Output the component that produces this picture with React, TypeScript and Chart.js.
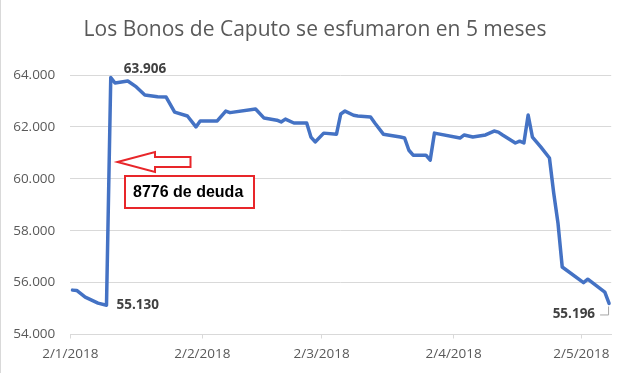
import React, { useEffect, useRef } from "react";
import { Chart, registerables } from "chart.js";

Chart.register(...registerables);

const TITLE = "Los Bonos de Caputo se esfumaron en 5 meses";
const ANNOTATION_TEXT = "8776 de deuda";
const START_DATE = "2018-01-02";
const END_DATE = "2018-05-08";

const dates = [
  "2018-01-02", "2018-01-03", "2018-01-05", "2018-01-08", "2018-01-10", "2018-01-11",
  "2018-01-12", "2018-01-15", "2018-01-17", "2018-01-19", "2018-01-22", "2018-01-24",
  "2018-01-26", "2018-01-29", "2018-01-31", "2018-02-01", "2018-02-05", "2018-02-07",
  "2018-02-08", "2018-02-14", "2018-02-16", "2018-02-19", "2018-02-20", "2018-02-21",
  "2018-02-23", "2018-02-26", "2018-02-27", "2018-02-28", "2018-03-02", "2018-03-05",
  "2018-03-06", "2018-03-07", "2018-03-09", "2018-03-10", "2018-03-13", "2018-03-14",
  "2018-03-16", "2018-03-20", "2018-03-21", "2018-03-22", "2018-03-23", "2018-03-26",
  "2018-03-27", "2018-03-28", "2018-04-03", "2018-04-04", "2018-04-06", "2018-04-09",
  "2018-04-11", "2018-04-12", "2018-04-13", "2018-04-16", "2018-04-17", "2018-04-18",
  "2018-04-19", "2018-04-20", "2018-04-22", "2018-04-24", "2018-04-25", "2018-04-26",
  "2018-04-27", "2018-05-02", "2018-05-03", "2018-05-07", "2018-05-08",
];

const values = [
  55.71, 55.7, 55.44, 55.21, 55.13, 63.906,
  63.69, 63.77, 63.54, 63.23, 63.16, 63.15,
  62.57, 62.42, 62.0, 62.23, 62.23, 62.61,
  62.55, 62.69, 62.34, 62.26, 62.19, 62.3,
  62.15, 62.15, 61.61, 61.42, 61.76, 61.72,
  62.5, 62.61, 62.45, 62.42, 62.38, 62.15,
  61.72, 61.61, 61.57, 61.1, 60.91, 60.91,
  60.72, 61.76, 61.57, 61.69, 61.61, 61.69,
  61.84, 61.8, 61.69, 61.38, 61.45, 61.38,
  62.46, 61.61, 61.22, 60.8, 59.45, 58.3,
  56.6, 56.0, 56.13, 55.63, 55.196,
];

const tickDates = ["2018-01-02", "2018-02-02", "2018-03-02", "2018-04-02", "2018-05-02"];
const tickLabels = ["2/1/2018", "2/2/2018", "2/3/2018", "2/4/2018", "2/5/2018"];
const Y_MIN = 54;
const Y_MAX = 64;
const Y_STEP = 2;

const labeledPoints = [4, 5, values.length - 1];

function dayOf(s: string): number {
  const [y, m, d] = s.split("-").map(Number);
  const [y0, m0, d0] = START_DATE.split("-").map(Number);
  return (Date.UTC(y, m - 1, d) - Date.UTC(y0, m0 - 1, d0)) / 86400000;
}

const fmt = (v: number) => v.toFixed(3);

const overlayPlugin = {
  id: "overlay",
  afterDatasetsDraw(chart: any) {
    const { ctx, scales } = chart;
    const xs = scales.x;
    const ys = scales.y;
    ctx.save();

    // outer border (left edge)
    ctx.strokeStyle = "#d9d9d9";
    ctx.lineWidth = 1;
    ctx.beginPath();
    ctx.moveTo(0.5, 0);
    ctx.lineTo(0.5, chart.height);
    ctx.stroke();

    // title
    ctx.fillStyle = "#595959";
    ctx.font = "21px 'Open Sans'";
    ctx.textAlign = "center";
    ctx.textBaseline = "middle";
    ctx.fillText(TITLE, 315, 30);

    // data labels
    ctx.fillStyle = "#404040";
    ctx.font = "bold 13.5px 'Open Sans'";
    const pt = (i: number) => ({
      x: xs.getPixelForValue(dayOf(dates[i])),
      y: ys.getPixelForValue(values[i]),
    });
    const low = pt(labeledPoints[0]);
    ctx.textAlign = "left";
    ctx.fillText(fmt(values[labeledPoints[0]]), low.x + 10, low.y);
    const high = pt(labeledPoints[1]);
    ctx.fillText(fmt(values[labeledPoints[1]]), high.x + 13, high.y - 8);
    const last = pt(labeledPoints[2]);
    ctx.textAlign = "right";
    ctx.fillText(fmt(values[labeledPoints[2]]), last.x - 14, last.y + 11);
    ctx.strokeStyle = "#a6a6a6";
    ctx.lineWidth = 1;
    ctx.beginPath();
    ctx.moveTo(last.x - 9, last.y + 11.5);
    ctx.lineTo(last.x - 0.5, last.y + 11.5);
    ctx.lineTo(last.x - 0.5, last.y + 3);
    ctx.stroke();

    // red arrow
    const tipX = 117.5;
    const tipY = 162;
    ctx.strokeStyle = "#e8262a";
    ctx.fillStyle = "#ffffff";
    ctx.lineWidth = 2;
    ctx.lineJoin = "miter";
    ctx.beginPath();
    ctx.moveTo(tipX, tipY);
    ctx.lineTo(tipX + 37.5, tipY - 10);
    ctx.lineTo(tipX + 37.5, tipY - 5);
    ctx.lineTo(tipX + 73, tipY - 5);
    ctx.lineTo(tipX + 73, tipY + 5);
    ctx.lineTo(tipX + 37.5, tipY + 5);
    ctx.lineTo(tipX + 37.5, tipY + 10);
    ctx.closePath();
    ctx.fill();
    ctx.stroke();

    // red box
    ctx.fillStyle = "#ffffff";
    ctx.fillRect(125, 176, 129, 32);
    ctx.strokeRect(125, 176, 129, 32);
    ctx.fillStyle = "#000000";
    ctx.font = "bold 16px 'Liberation Sans'";
    ctx.textAlign = "left";
    ctx.textBaseline = "middle";
    ctx.fillText(ANNOTATION_TEXT, 133, 192.5);

    ctx.restore();
  },
};

export default function App() {
  const ref = useRef<HTMLCanvasElement>(null);

  useEffect(() => {
    if (!ref.current) return;
    const tickValues = tickDates.map((d) => dayOf(d) - 0.5);
    const chart = new Chart(ref.current, {
      type: "line",
      data: {
        datasets: [
          {
            data: dates.map((d, i) => ({ x: dayOf(d), y: values[i] })),
            borderColor: "#4472C4",
            borderWidth: 3.5,
            pointRadius: 0,
            tension: 0,
            borderJoinStyle: "round",
            borderCapStyle: "round",
            fill: false,
          },
        ],
      },
      options: {
        animation: false,
        responsive: false,
        devicePixelRatio: 1,
        layout: { padding: { top: 75, right: 18.8, left: 0, bottom: 0 } },
        plugins: {
          legend: { display: false },
          tooltip: { enabled: false },
          title: { display: false },
        },
        scales: {
          x: {
            type: "linear",
            min: -0.5,
            max: dayOf(END_DATE) + 0.5,
            afterBuildTicks: (scale: any) => {
              scale.ticks = tickValues.map((v) => ({ value: v }));
            },
            afterFit: (scale: any) => {
              scale.height = 38.5;
            },
            ticks: {
              autoSkip: false,
              maxRotation: 0,
              padding: 8,
              color: "#595959",
              font: { family: "'Open Sans'", size: 13.5 },
              callback: (v: any) => {
                const i = tickValues.indexOf(Number(v));
                return i >= 0 ? tickLabels[i] : "";
              },
            },
            grid: {
              display: true,
              drawOnChartArea: false,
              drawTicks: true,
              tickLength: 4,
              color: "#d9d9d9",
            },
            border: { display: true, color: "#d9d9d9", width: 1 },
          },
          y: {
            min: Y_MIN,
            max: Y_MAX,
            afterFit: (scale: any) => {
              scale.width = 70.3;
            },
            ticks: {
              stepSize: Y_STEP,
              padding: 15,
              color: "#595959",
              font: { family: "'Open Sans'", size: 13.5 },
              callback: (v: any) => fmt(Number(v)),
            },
            grid: { color: "#d9d9d9", drawTicks: false, lineWidth: 1 },
            border: { display: false },
          },
        },
      },
      plugins: [overlayPlugin],
    });
    return () => chart.destroy();
  }, []);

  return (
    <div style={{ position: "fixed", left: 0, top: 0, width: 630, height: 373, background: "#fff" }}>
      <canvas ref={ref} width={630} height={373} style={{ display: "block", width: 630, height: 373 }} />
    </div>
  );
}
